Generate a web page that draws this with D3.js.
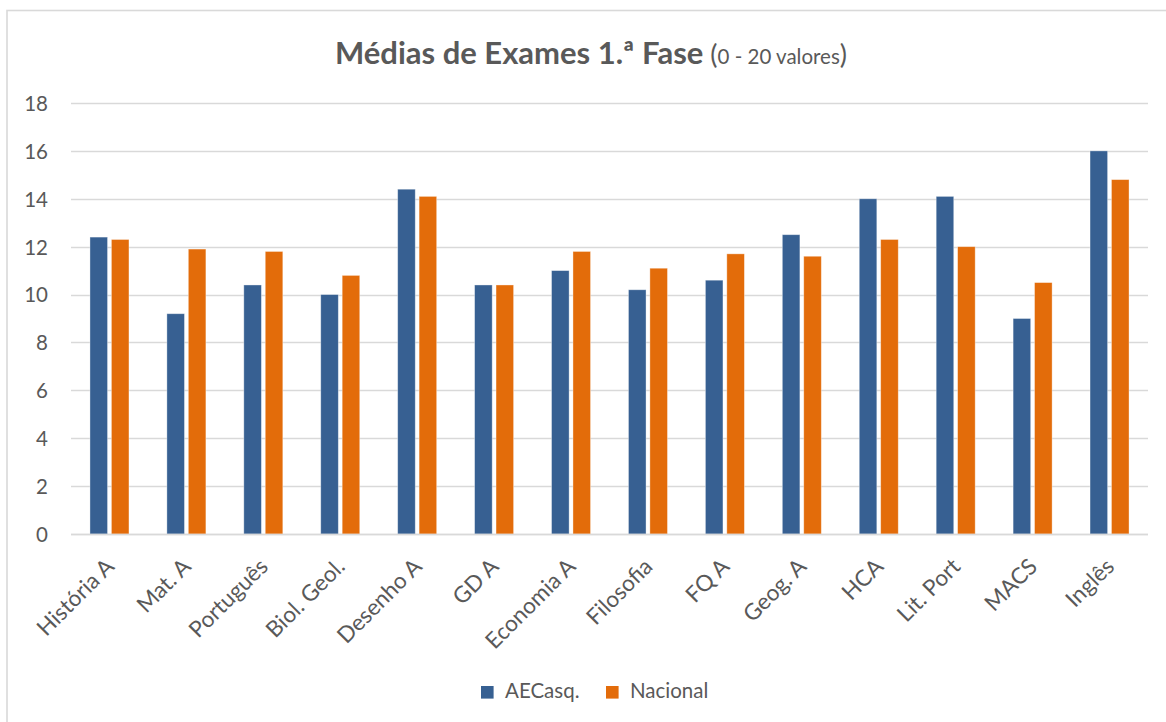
<!DOCTYPE html>
<html>
<head>
<meta charset="utf-8">
<script src="https://cdn.jsdelivr.net/npm/d3@7"></script>
<style>
  html, body { margin: 0; padding: 0; background: #fff; }
  svg { display: block; }
  text { font-family: Lato, "Open Sans", sans-serif; fill: #595959; }
</style>
</head>
<body>
<svg id="chart" width="1166" height="722"></svg>
<script>
// Exam averages, 1st phase (scale 0–20)
const categories = ["História A", "Mat. A", "Português", "Biol. Geol.", "Desenho A", "GD A",
  "Economia A", "Filosofia", "FQ A", "Geog. A", "HCA", "Lit. Port", "MACS", "Inglês"];
const seriesNames = ["AECasq.", "Nacional"];
const aecasq   = [12.4, 9.2, 10.4, 10.0, 14.4, 10.4, 11.0, 10.2, 10.6, 12.5, 14.0, 14.1, 9.0, 16.0];
const nacional = [12.3, 11.9, 11.8, 10.8, 14.1, 10.4, 11.8, 11.1, 11.7, 11.6, 12.3, 12.0, 10.5, 14.8];
const yTicks = [0, 2, 4, 6, 8, 10, 12, 14, 16, 18];
const colors = ["#376092", "#E36C0A"];

const svg = d3.select("#chart");

// outer chart frame
svg.append("rect")
  .attr("x", 7).attr("y", 10.5).attr("width", 1200).attr("height", 800)
  .attr("fill", "none").attr("stroke", "#d9d9d9").attr("stroke-width", 1.6);

const plot = { left: 71, right: 1148, top: 103, bottom: 534 };

const x = d3.scaleBand().domain(categories).range([plot.left, plot.right]).padding(0);
const y = d3.scaleLinear().domain([0, 18]).range([plot.bottom, plot.top]);
const xs = d3.scaleBand().domain(seriesNames)
  .range([-19.5, 19.5]).paddingInner(0.18);

// gridlines
svg.append("g").selectAll("line").data(yTicks).join("line")
  .attr("x1", plot.left).attr("x2", plot.right)
  .attr("y1", d => Math.round(y(d)) + 0.5).attr("y2", d => Math.round(y(d)) + 0.5)
  .attr("stroke", "#d9d9d9").attr("stroke-width", 1.4);

// y-axis labels
const yAxis = d3.axisLeft(y).tickValues(yTicks).tickSize(0).tickPadding(0);
const gy = svg.append("g").attr("transform", `translate(48,0)`).call(yAxis);
gy.select(".domain").remove();
gy.selectAll("text").style("font-size", "20.5px").style("font-family", "Lato").attr("fill", "#595959").attr("dy", "0.36em");

// bars
const rows = categories.map((c, i) => ({ cat: c, vals: [aecasq[i], nacional[i]] }));
const groups = svg.append("g").selectAll("g").data(rows).join("g")
  .attr("transform", d => `translate(${x(d.cat) + x.bandwidth() / 2},0)`);
groups.selectAll("rect").data(d => d.vals.map((v, k) => ({ s: seriesNames[k], v, k })))
  .join("rect")
  .attr("x", d => xs(d.s))
  .attr("width", xs.bandwidth())
  .attr("y", d => y(d.v))
  .attr("height", d => y(0) - y(d.v))
  .attr("fill", d => colors[d.k])
  .attr("stroke", "#ffffff").attr("stroke-opacity", 0.45).attr("stroke-width", 0.8);

// baseline redraw on top
svg.append("line")
  .attr("x1", plot.left).attr("x2", plot.right)
  .attr("y1", Math.round(y(0)) + 0.5).attr("y2", Math.round(y(0)) + 0.5)
  .attr("stroke", "#d9d9d9").attr("stroke-width", 1.4);

// category labels, rotated
const xAxis = d3.axisBottom(x).tickSize(0).tickPadding(0);
const gx = svg.append("g").call(xAxis);
gx.select(".domain").remove();
gx.selectAll(".tick").attr("transform", d => `translate(${x(d) + x.bandwidth() / 2 + 6},568)`);
gx.selectAll("text")
  .attr("y", 0).attr("dy", 0)
  .attr("text-anchor", "end")
  .attr("transform", "rotate(-45)")
  .attr("fill", "#595959")
  .style("font-size", "22.5px").style("font-family", "Lato");

// title
const title = svg.append("text")
  .attr("x", 591).attr("y", 64).attr("text-anchor", "middle");
title.append("tspan").text("Médias de Exames 1.ª Fase")
  .style("font-weight", "bold").style("font-size", "31px");
title.append("tspan").text(" (").style("font-size", "27px").style("font-weight", "normal");
title.append("tspan").text("0 - 20 valores").style("font-size", "20.5px");
title.append("tspan").text(")").style("font-size", "27px");

// legend
const legend = svg.append("g");
const legendItems = [{ name: seriesNames[0], x: 481, c: colors[0] }, { name: seriesNames[1], x: 606, c: colors[1] }];
legend.selectAll("rect").data(legendItems).join("rect")
  .attr("x", d => d.x).attr("y", 686).attr("width", 12.6).attr("height", 12.6)
  .attr("fill", d => d.c);
legend.selectAll("text").data(legendItems).join("text")
  .attr("x", d => d.x + 24).attr("y", 698)
  .style("font-size", "20.5px")
  .text(d => d.name);
</script>
</body>
</html>
